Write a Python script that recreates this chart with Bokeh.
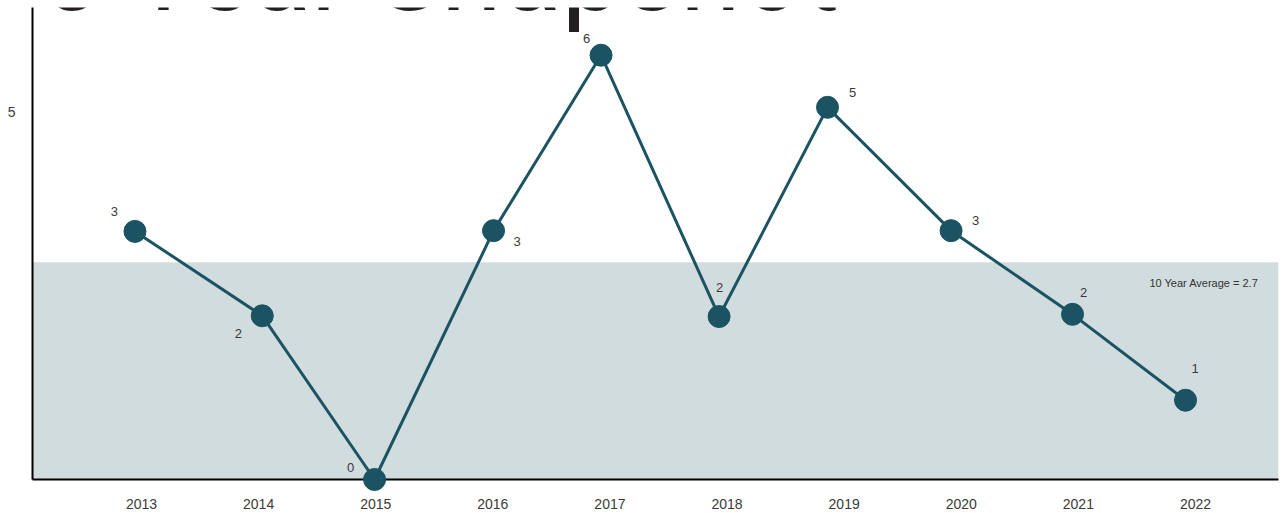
from bokeh.plotting import figure
from bokeh.models import Range1d, FixedTicker, BoxAnnotation, Label, ColumnDataSource
from bokeh.core.properties import value
from bokeh.embed import file_html
from bokeh.resources import INLINE

# ---- data ----
tick_years = [2013, 2014, 2015, 2016, 2017, 2018, 2019, 2020, 2021, 2022]
tick_labels = ["2013", "2014", "2015", "2016", "2017", "2018", "2019", "2020", "2021", "2022"]
point_x = [2012.944, 2014.031, 2014.990, 2016.006, 2016.924, 2017.932, 2018.858, 2019.913, 2020.950, 2021.915]
point_y = [3.38, 2.23, 0.0, 3.39, 5.78, 2.22, 5.07, 3.39, 2.25, 1.08]
point_labels = ["3", "2", "0", "3", "6", "2", "5", "3", "2", "1"]
average_band_top = 2.96
average_text = "10 Year Average = 2.7"
title_text = "10 Year Snapshot"
y_ticks = [5]

# label placement (screen pixel offsets from each point)
label_dx = [-20.5, -24, -24, 23.5, -14.5, 0.5, 25, 24.5, 11, 9.5]
label_dy = [-20, 18, -12.5, 10.5, -17, -29, -15, -10, -22, -32]

TEAL = "#1b5363"
BAND = "#d1dcdf"
TXT = "#3a3a3a"
FONT = "Liberation Sans"

p = figure(width=1282, height=513, output_backend="svg", toolbar_location=None,
           x_range=Range1d(2012.069, 2022.709), y_range=Range1d(0, 6.43),
           min_border_left=32, min_border_right=4, min_border_top=7, min_border_bottom=34)
p.outline_line_color = None
p.xgrid.grid_line_color = None
p.ygrid.grid_line_color = None
p.background_fill_color = "white"

# axes
p.xaxis.ticker = FixedTicker(ticks=tick_years)
p.xaxis.major_label_overrides = {y: l for y, l in zip(tick_years, tick_labels)}
p.yaxis.ticker = FixedTicker(ticks=y_ticks)
for ax in (p.xaxis[0], p.yaxis[0]):
    ax.axis_line_color = "black"
    ax.axis_line_width = 2
    ax.major_tick_line_color = None
    ax.minor_tick_line_color = None
    ax.major_label_text_font = FONT
    ax.major_label_text_color = TXT
    ax.major_label_text_font_size = "14px"
p.xaxis.major_label_standoff = 13
p.yaxis.major_label_standoff = 11

# average band
band = BoxAnnotation(bottom=0, top=average_band_top, fill_color=BAND, fill_alpha=1.0,
                     line_color=None, level="underlay")
p.add_layout(band)

src = ColumnDataSource(dict(x=point_x, y=point_y, lab=point_labels, dx=label_dx, dy=label_dy))
p.line("x", "y", source=src, line_color=TEAL, line_width=3, level="overlay")
p.scatter("x", "y", source=src, size=22, fill_color=TEAL, line_color=TEAL, level="overlay")
p.text("x", "y", text="lab", source=src, x_offset="dx", y_offset="dy",
       text_align="center", text_baseline="middle", text_font=value(FONT),
       text_font_size="13px", text_color=TXT, level="overlay")

p.add_layout(Label(x=2022.539, y=2.68, text=average_text, text_align="right",
                   text_baseline="middle", text_font=FONT, text_font_size="11px",
                   text_color="#333333"))

p.add_layout(Label(x=2011.616, y=6.90, text=title_text, text_align="left",
                   text_baseline="middle", text_font="Roboto", text_font_size="110px",
                   text_color="#231f20"))

open("out.html", "w").write(file_html(p, INLINE))
